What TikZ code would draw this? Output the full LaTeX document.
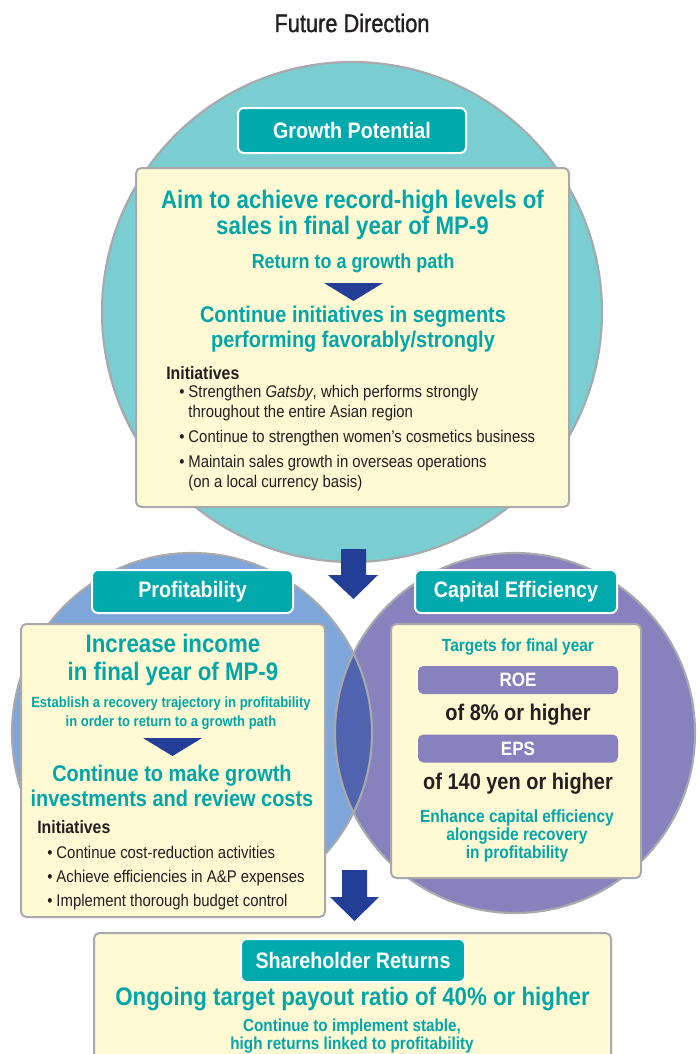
\documentclass[tikz,border=0pt]{standalone}
\usepackage{fontspec}
\setmainfont{Liberation Sans}[FakeStretch=0.88]
\newfontfamily\headfont{Liberation Sans}[FakeStretch=0.86,FakeBold=1.2]
\definecolor{tealtxt}{HTML}{00A6A8}
\definecolor{tealbox}{HTML}{00A9AC}
\definecolor{tealdisc}{HTML}{7ACDD0}
\definecolor{bluedisc}{HTML}{7FA6D9}
\definecolor{purpledisc}{HTML}{8781BE}
\definecolor{overlapdisc}{HTML}{5063AE}
\definecolor{paper}{HTML}{FFF9D4}
\definecolor{rim}{HTML}{A7A9AC}
\definecolor{navy}{HTML}{233E96}
\definecolor{ink}{HTML}{231F20}
\tikzset{
	disc/.style={draw=rim,line width=1.6pt},
	panel/.style={fill=paper,draw=rim,line width=1.5pt,rounded corners=4pt},
	headbox/.style={fill=tealbox,draw=white,line width=1.5pt,rounded corners=4.5pt,inner sep=0pt,
		text=white,font=\bfseries\fontsize{16.8}{18}\selectfont},
	barbox/.style={fill=purpledisc,rounded corners=4pt,inner sep=0pt,minimum width=150pt,minimum height=21pt,
		text=white,font=\bfseries\fontsize{14.5}{15}\selectfont},
	bigtxt/.style={text=tealtxt,inner sep=0pt,align=center,font=\bfseries\fontsize{19}{19.5}\selectfont},
	midtxt/.style={text=tealtxt,inner sep=0pt,align=center,font=\bfseries\fontsize{17}{18.75}\selectfont},
	subtxt/.style={text=tealtxt,inner sep=0pt,align=center,font=\bfseries\fontsize{13.2}{13.5}\selectfont},
	valtxt/.style={text=ink,inner sep=0pt,font=\bfseries\fontsize{17}{18}\selectfont},
	inittxt/.style={text=ink,inner sep=0pt,anchor=west,font=\bfseries\fontsize{13.5}{15}\selectfont},
	listtxt/.style={text=ink,inner sep=0pt,anchor=north west,align=left}
}
\begin{document}
\begin{tikzpicture}[x=0.75pt,y=-0.75pt,line join=round]
	\useasboundingbox (0,0) rectangle (700,1054);
	\clip (0,0) rectangle (700,1054);
	\node[text=ink,inner sep=0pt,font=\headfont\fontsize{19}{20}\selectfont] (title) at (352,23) {Future Direction};
	%Vẽ các hình tròn
	\fill[tealdisc] (352,312) circle[radius=250];
	\draw[disc] (352,312) circle[radius=250];
	\fill[bluedisc] (192,733) circle[radius=180];
	\fill[purpledisc] (515,733) circle[radius=180];
	\begin{scope}
		\clip (192,733) circle[radius=180];
		\fill[overlapdisc] (515,733) circle[radius=180];
	\end{scope}
	\draw[disc] (192,733) circle[radius=180];
	\draw[disc] (515,733) circle[radius=180];
	%Vẽ các khung
	\draw[panel] (136,168) rectangle (569,507);
	\draw[panel] (21,624) rectangle (325,917);
	\draw[panel] (391,624) rectangle (641,878);
	\draw[panel] (94,933) rectangle (611,1075);
	%Tiêu đề các khung
	\node[headbox,minimum width=171pt,minimum height=33.75pt] (growth) at (352,130.5) {Growth Potential};
	\node[headbox,minimum width=150.75pt,minimum height=32.25pt] (profit) at (192.5,591.5) {Profitability};
	\node[headbox,minimum width=151.5pt,minimum height=32.25pt] (capital) at (516,591.5) {Capital Efficiency};
	\node[headbox,minimum width=168pt,minimum height=32.25pt] (shareholder) at (353,960.5) {Shareholder Returns};
	%Khung trên
	\node[bigtxt] (aim) at (352.5,215) {Aim to achieve record-high levels of\\sales in final year of MP-9};
	\node[subtxt,font=\bfseries\fontsize{15.3}{16}\selectfont] (returnpath) at (353,263) {Return to a growth path};
	\fill[navy] (324,283) -- (383,283) -- (353.5,301) -- cycle;
	\node[midtxt] (segments) at (353,329) {Continue initiatives in segments\\performing favorably/strongly};
	\node[inittxt] (gpinit) at (166,373) {Initiatives};
	\node[listtxt,font=\fontsize{12.7}{14.5}\selectfont] (gplist) at (179,384) {%
		\begin{tabular}{@{}l@{\hspace{3pt}}l@{}}
			\textbullet & Strengthen \textit{Gatsby}, which performs strongly\\
			& throughout the entire Asian region\\[4.5pt]
			\textbullet & Continue to strengthen women’s cosmetics business\\[4.5pt]
			\textbullet & Maintain sales growth in overseas operations\\
			& (on a local currency basis)
		\end{tabular}};
	%Khung trái
	\node[bigtxt,font=\bfseries\fontsize{19}{21}\selectfont] (income) at (173,660) {Increase income\\in final year of MP-9};
	\node[subtxt,font=\bfseries\fontsize{11.1}{14}\selectfont] (recovery) at (171,713) {Establish a recovery trajectory in profitability\\in order to return to a growth path};
	\fill[navy] (143,738) -- (202,738) -- (172.5,756) -- cycle;
	\node[midtxt] (growthinv) at (172,786) {Continue to make growth\\investments and review costs};
	\node[inittxt] (prinit) at (37,827) {Initiatives};
	\node[listtxt,font=\fontsize{12.7}{18}\selectfont] (prlist) at (47,841) {%
		\begin{tabular}{@{}l@{\hspace{3pt}}l@{}}
			\textbullet & Continue cost-reduction activities\\
			\textbullet & Achieve efficiencies in A\&P expenses\\
			\textbullet & Implement thorough budget control
		\end{tabular}};
	%Khung phải
	\node[subtxt] (targets) at (518,647) {Targets for final year};
	\node[barbox] (roe) at (518,680) {ROE};
	\node[valtxt] (roeval) at (518,715) {of 8\% or higher};
	\node[barbox] (eps) at (518,748.5) {EPS};
	\node[valtxt] (epsval) at (518,784) {of 140 yen or higher};
	\node[subtxt] (enhance) at (517,836) {Enhance capital efficiency\\alongside recovery\\in profitability};
	%Khung dưới
	\node[bigtxt] (payout) at (352.5,999) {Ongoing target payout ratio of 40\% or higher};
	\node[subtxt,font=\bfseries\fontsize{13}{13.5}\selectfont] (stable) at (352,1036) {Continue to implement stable,\\high returns linked to profitability};
	%Vẽ các mũi tên
	\fill[navy] (341,549) -- (366,549) -- (366,575) -- (378,575) -- (353.5,599) -- (328,575) -- (341,575) -- cycle;
	\fill[navy] (342,870) -- (367,870) -- (367,897) -- (379,897) -- (354.5,921) -- (330,897) -- (342,897) -- cycle;
\end{tikzpicture}
\end{document}
